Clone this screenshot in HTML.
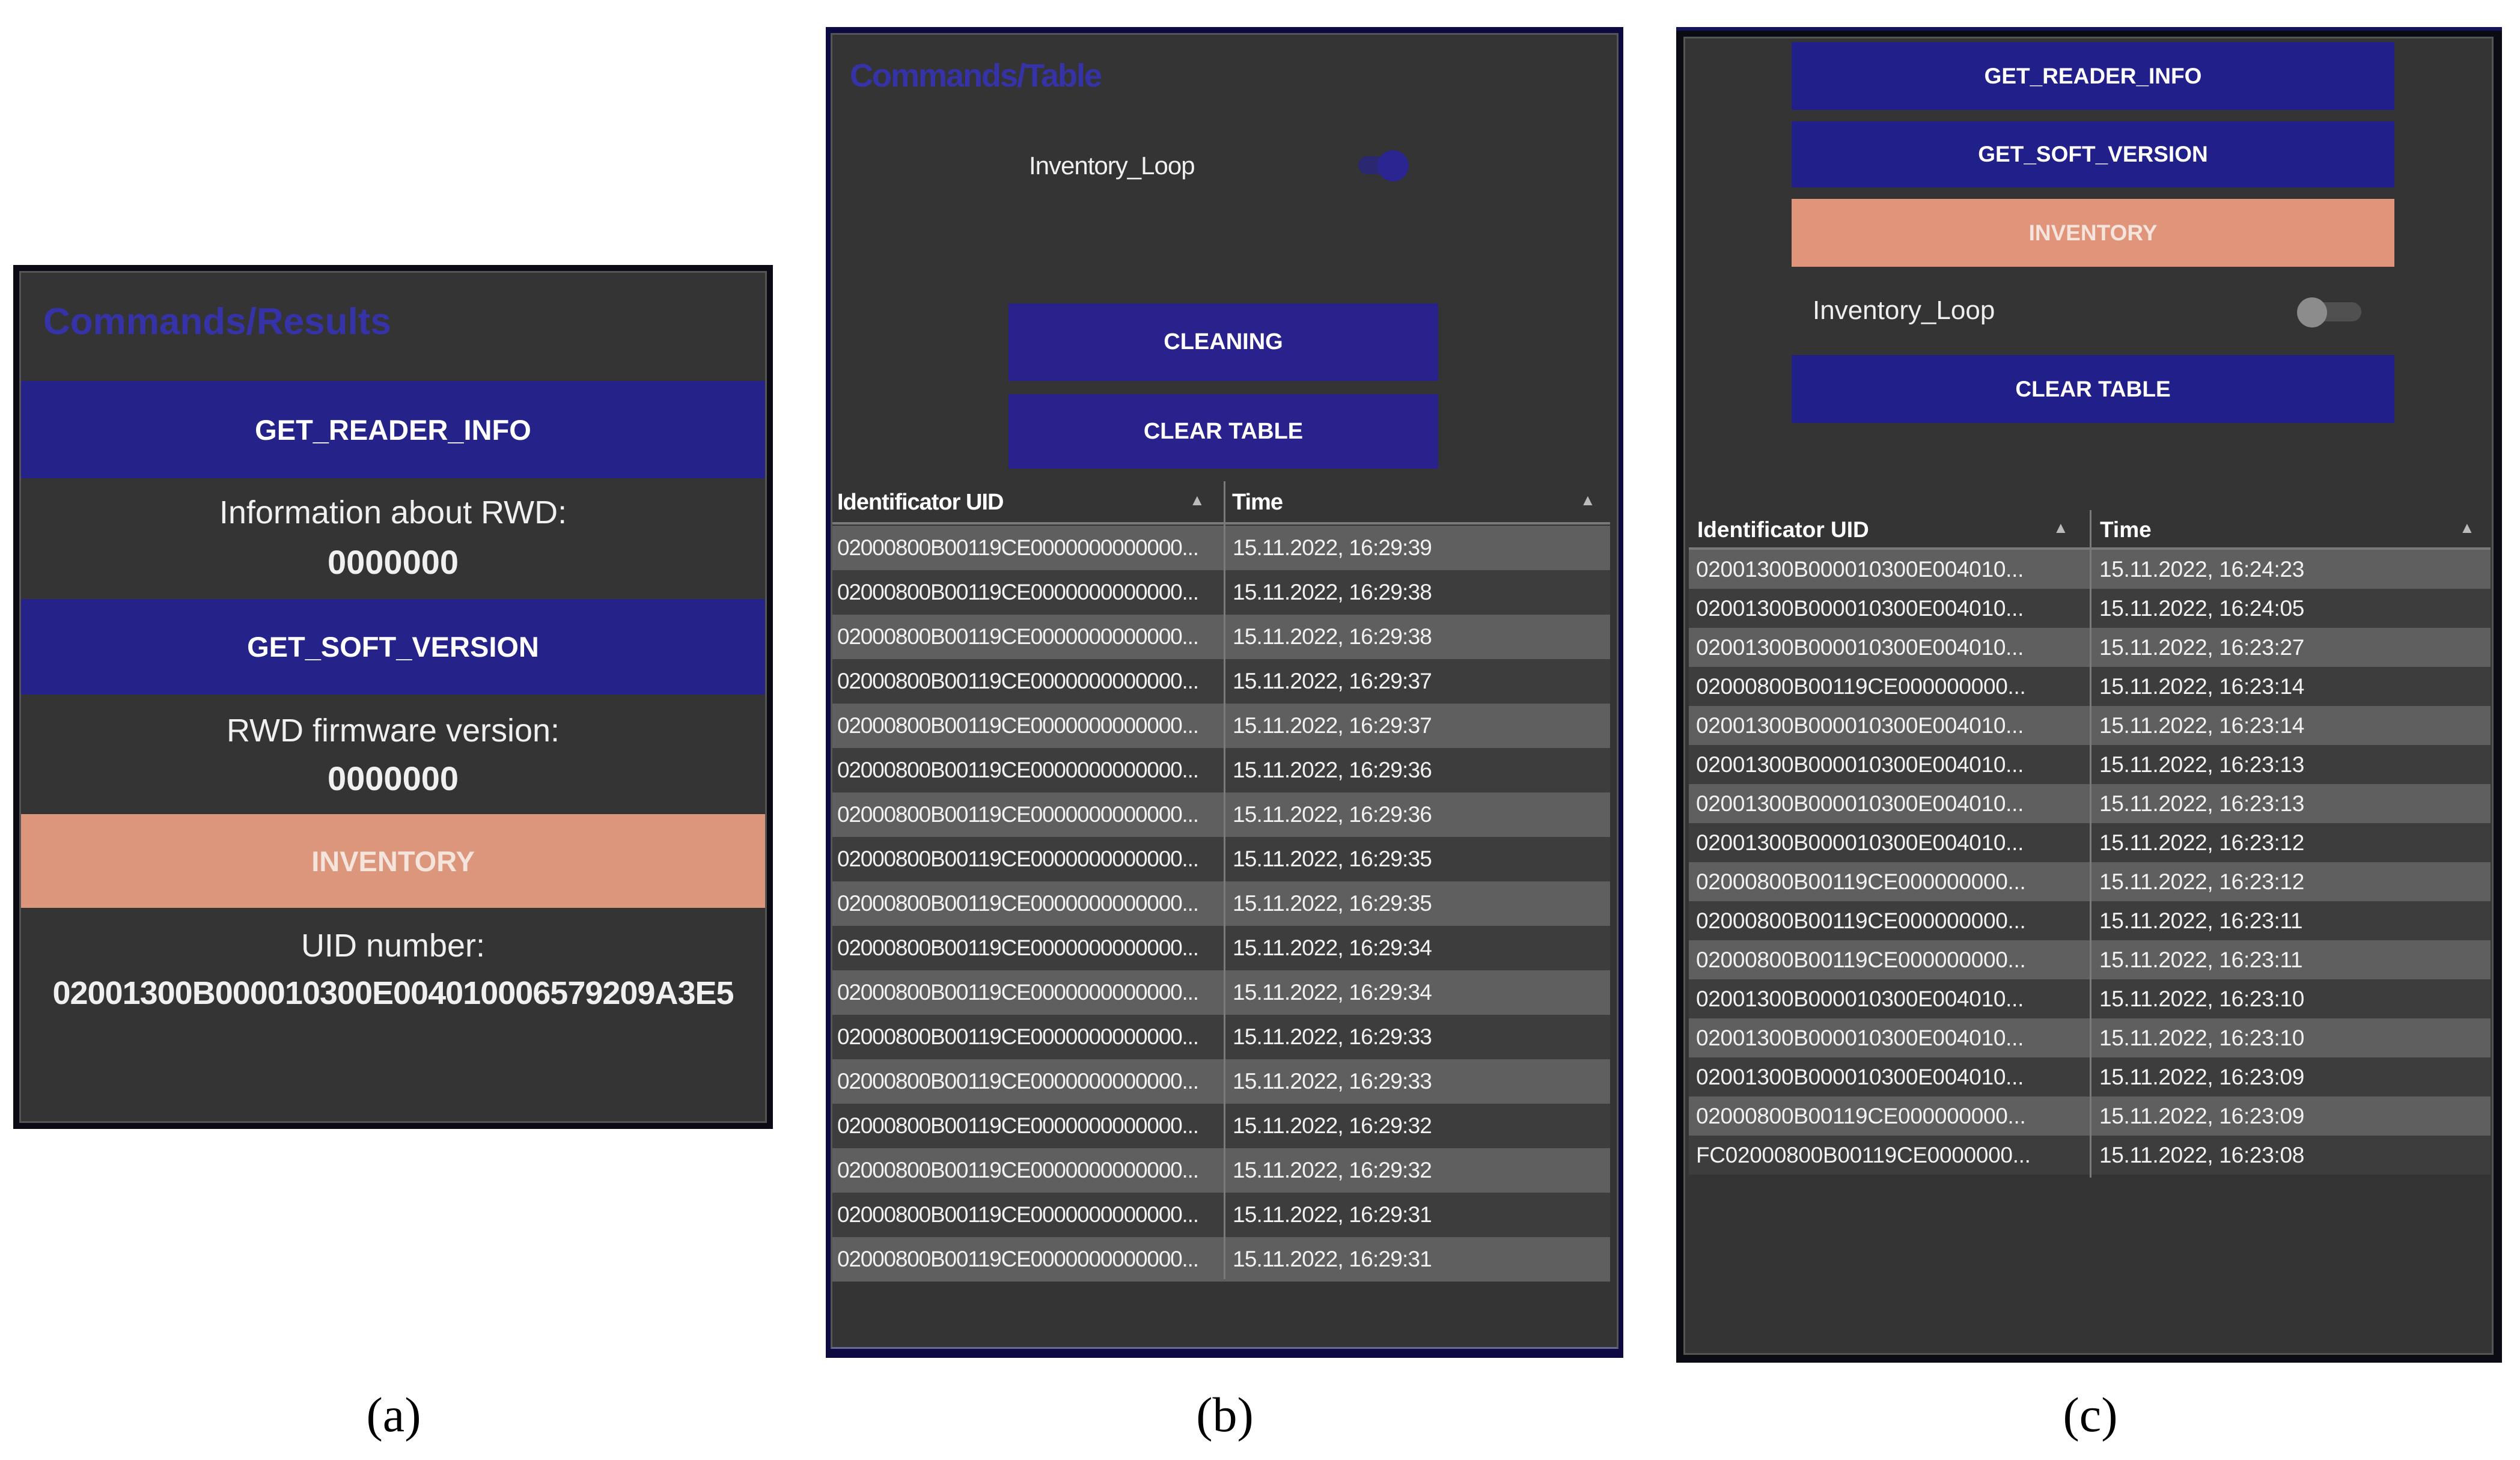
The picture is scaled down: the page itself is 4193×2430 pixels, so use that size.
<!DOCTYPE html>
<html><head><meta charset="utf-8"><style>
*{margin:0;padding:0;box-sizing:border-box}
body{width:4193px;height:2430px;background:#fff;position:relative;overflow:hidden;font-family:"Liberation Sans",sans-serif}
.a{position:absolute}
.btn{position:absolute;color:#fff;font-weight:bold;display:flex;align-items:center;justify-content:center;background:#25228a}
.inv{background:#dc967c;color:#f4e4dc}
.t{position:absolute;color:#f0f0f0;text-align:center}
.row{display:flex;align-items:center;color:#f2f2f2;white-space:nowrap;overflow:hidden}
.row span:first-child{overflow:hidden;flex:none}
.cap{position:absolute;font-family:"Liberation Serif",serif;font-size:82px;color:#000;transform:translateX(-50%)}
#tb .row{height:74px;width:1294px;font-size:37px;letter-spacing:-1.2px}
#tb .row span:first-child{width:654px;padding-left:8px}
#tb .row span:last-child{padding-left:12px;letter-spacing:-0.8px}
#tc .row{height:65px;width:1334px;font-size:37px;letter-spacing:-0.3px}
#tc .row span:first-child{width:667px;padding-left:12px}
#tc .row span:last-child{padding-left:16px}
.l{background:#5f5f5f}.d{background:#3d3d3d}
</style></head><body>

<!-- Panel A -->
<div class="a" style="left:22px;top:441px;width:1264px;height:1438px;background:#0b0b14"></div>
<div class="a" style="left:32px;top:451px;width:1244px;height:1418px;background:#343434;border:3px solid #555"></div>
<div class="a" style="left:72px;top:500px;font-size:62px;font-weight:bold;color:#3633a8">Commands/Results</div>
<div class="btn" style="left:35px;top:634px;width:1238px;height:162px;font-size:47px">GET_READER_INFO</div>
<div class="t" style="left:35px;top:822px;width:1238px;font-size:54px">Information about RWD:</div>
<div class="t" style="left:35px;top:903px;width:1238px;font-size:56px;font-weight:bold">0000000</div>
<div class="btn" style="left:35px;top:997px;width:1238px;height:159px;font-size:47px">GET_SOFT_VERSION</div>
<div class="t" style="left:35px;top:1185px;width:1238px;font-size:54px">RWD firmware version:</div>
<div class="t" style="left:35px;top:1263px;width:1238px;font-size:56px;font-weight:bold">0000000</div>
<div class="btn inv" style="left:35px;top:1355px;width:1238px;height:156px;font-size:47px">INVENTORY</div>
<div class="t" style="left:35px;top:1543px;width:1238px;font-size:54px">UID number:</div>
<div class="t" style="left:35px;top:1622px;width:1238px;font-size:54px;font-weight:bold;letter-spacing:-1px">02001300B000010300E004010006579209A3E5</div>

<!-- Panel B -->
<div class="a" style="left:1374px;top:45px;width:1327px;height:2215px;background:#0c0a40"></div>
<div class="a" style="left:1382px;top:55px;width:1311px;height:2190px;background:#343434;border:3px solid #555;border-bottom-color:#6a6a9a"></div>
<div class="a" style="left:1414px;top:95px;font-size:54px;font-weight:bold;color:#3633a8;letter-spacing:-2px">Commands/Table</div>
<div class="a" style="left:1712px;top:252px;font-size:42px;color:#f0f0f0;letter-spacing:-1px">Inventory_Loop</div>
<div class="a" style="left:2260px;top:260px;width:80px;height:30px;border-radius:15px;background:#2a2870"></div>
<div class="a" style="left:2292px;top:250px;width:52px;height:52px;border-radius:50%;background:#2a2590"></div>
<div class="btn" style="left:1678px;top:505px;width:715px;height:129px;font-size:38px;background:#29228c">CLEANING</div>
<div class="btn" style="left:1678px;top:656px;width:715px;height:124px;font-size:38px;background:#29228c">CLEAR TABLE</div>
<div class="a" style="left:1385px;top:801px;width:1294px;height:72px;border-bottom:4px solid #7a7a7a;font-size:38px;font-weight:bold;color:#fff;letter-spacing:-1px">
<span class="a" style="left:8px;top:14px">Identificator UID</span><span class="a" style="left:594px;top:16px;font-size:26px;color:#bbb">▲</span>
<span class="a" style="left:665px;top:14px">Time</span><span class="a" style="left:1244px;top:16px;font-size:26px;color:#bbb">▲</span></div>
<div class="a" style="left:2036px;top:801px;width:3px;height:1328px;background:#7a7a7a;z-index:2"></div>
<div id="tb" class="a" style="left:1385px;top:875px">
<div class="row l"><span>02000800B00119CE0000000000000...</span><span>15.11.2022, 16:29:39</span></div>
<div class="row d"><span>02000800B00119CE0000000000000...</span><span>15.11.2022, 16:29:38</span></div>
<div class="row l"><span>02000800B00119CE0000000000000...</span><span>15.11.2022, 16:29:38</span></div>
<div class="row d"><span>02000800B00119CE0000000000000...</span><span>15.11.2022, 16:29:37</span></div>
<div class="row l"><span>02000800B00119CE0000000000000...</span><span>15.11.2022, 16:29:37</span></div>
<div class="row d"><span>02000800B00119CE0000000000000...</span><span>15.11.2022, 16:29:36</span></div>
<div class="row l"><span>02000800B00119CE0000000000000...</span><span>15.11.2022, 16:29:36</span></div>
<div class="row d"><span>02000800B00119CE0000000000000...</span><span>15.11.2022, 16:29:35</span></div>
<div class="row l"><span>02000800B00119CE0000000000000...</span><span>15.11.2022, 16:29:35</span></div>
<div class="row d"><span>02000800B00119CE0000000000000...</span><span>15.11.2022, 16:29:34</span></div>
<div class="row l"><span>02000800B00119CE0000000000000...</span><span>15.11.2022, 16:29:34</span></div>
<div class="row d"><span>02000800B00119CE0000000000000...</span><span>15.11.2022, 16:29:33</span></div>
<div class="row l"><span>02000800B00119CE0000000000000...</span><span>15.11.2022, 16:29:33</span></div>
<div class="row d"><span>02000800B00119CE0000000000000...</span><span>15.11.2022, 16:29:32</span></div>
<div class="row l"><span>02000800B00119CE0000000000000...</span><span>15.11.2022, 16:29:32</span></div>
<div class="row d"><span>02000800B00119CE0000000000000...</span><span>15.11.2022, 16:29:31</span></div>
<div class="row l"><span>02000800B00119CE0000000000000...</span><span>15.11.2022, 16:29:31</span></div>
</div>

<!-- Panel C -->
<div class="a" style="left:2789px;top:45px;width:1374px;height:2223px;background:#0b0b14;border-top:6px solid #14145a"></div>
<div class="a" style="left:2801px;top:61px;width:1348px;height:2194px;background:#343434;border:3px solid #555"></div>
<div class="btn" style="left:2981px;top:70px;width:1003px;height:113px;font-size:37px;background:#21208a">GET_READER_INFO</div>
<div class="btn" style="left:2981px;top:202px;width:1003px;height:110px;font-size:37px;background:#21208a">GET_SOFT_VERSION</div>
<div class="btn inv" style="left:2981px;top:331px;width:1003px;height:113px;font-size:37px;background:#e0957b">INVENTORY</div>
<div class="a" style="left:3016px;top:492px;font-size:44px;color:#eee">Inventory_Loop</div>
<div class="a" style="left:3839px;top:503px;width:90px;height:32px;border-radius:16px;background:#505050"></div>
<div class="a" style="left:3822px;top:495px;width:50px;height:50px;border-radius:50%;background:#8c8c8c"></div>
<div class="btn" style="left:2981px;top:591px;width:1003px;height:113px;font-size:37px;background:#21208a">CLEAR TABLE</div>
<div class="a" style="left:2810px;top:849px;width:1334px;height:66px;border-bottom:4px solid #7a7a7a;font-size:37px;font-weight:bold;color:#fff">
<span class="a" style="left:14px;top:12px">Identificator UID</span><span class="a" style="left:606px;top:14px;font-size:26px;color:#bbb">▲</span>
<span class="a" style="left:684px;top:12px">Time</span><span class="a" style="left:1282px;top:14px;font-size:26px;color:#bbb">▲</span></div>
<div class="a" style="left:3477px;top:849px;width:3px;height:1111px;background:#7a7a7a;z-index:2"></div>
<div id="tc" class="a" style="left:2810px;top:915px">
<div class="row l"><span>02001300B000010300E004010...</span><span>15.11.2022, 16:24:23</span></div>
<div class="row d"><span>02001300B000010300E004010...</span><span>15.11.2022, 16:24:05</span></div>
<div class="row l"><span>02001300B000010300E004010...</span><span>15.11.2022, 16:23:27</span></div>
<div class="row d"><span>02000800B00119CE000000000...</span><span>15.11.2022, 16:23:14</span></div>
<div class="row l"><span>02001300B000010300E004010...</span><span>15.11.2022, 16:23:14</span></div>
<div class="row d"><span>02001300B000010300E004010...</span><span>15.11.2022, 16:23:13</span></div>
<div class="row l"><span>02001300B000010300E004010...</span><span>15.11.2022, 16:23:13</span></div>
<div class="row d"><span>02001300B000010300E004010...</span><span>15.11.2022, 16:23:12</span></div>
<div class="row l"><span>02000800B00119CE000000000...</span><span>15.11.2022, 16:23:12</span></div>
<div class="row d"><span>02000800B00119CE000000000...</span><span>15.11.2022, 16:23:11</span></div>
<div class="row l"><span>02000800B00119CE000000000...</span><span>15.11.2022, 16:23:11</span></div>
<div class="row d"><span>02001300B000010300E004010...</span><span>15.11.2022, 16:23:10</span></div>
<div class="row l"><span>02001300B000010300E004010...</span><span>15.11.2022, 16:23:10</span></div>
<div class="row d"><span>02001300B000010300E004010...</span><span>15.11.2022, 16:23:09</span></div>
<div class="row l"><span>02000800B00119CE000000000...</span><span>15.11.2022, 16:23:09</span></div>
<div class="row d"><span>FC02000800B00119CE0000000...</span><span>15.11.2022, 16:23:08</span></div>
</div>

<!-- Captions -->
<div class="cap" style="left:655px;top:2308px">(a)</div>
<div class="cap" style="left:2038px;top:2308px">(b)</div>
<div class="cap" style="left:3478px;top:2308px">(c)</div>
</body></html>
